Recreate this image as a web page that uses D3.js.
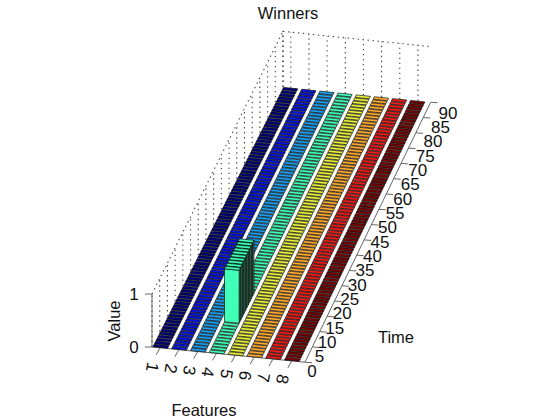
<!DOCTYPE html>
<html lang="en">
<head>
  <meta charset="UTF-8">
  <title>Winners</title>
  <script src="https://d3js.org/d3.v7.min.js"></script>
  <style>
    html, body { margin: 0; background: #fff; }
    text { font-family: "Liberation Sans", Arial, sans-serif; font-size: 16.5px; fill: #111; }
    .tick-label { font-size: 17px; }
  </style>
</head>
<body>
  <div id="chart"></div>
  <script>
    const features = [1, 2, 3, 4, 5, 6, 7, 8];
    const featureColors = ["#00007c", "#0014e6", "#1c9ff0", "#40ffb7", "#eaf23c", "#ffab30", "#f01c18", "#780000"];
    const timeTicks = [0, 5, 10, 15, 20, 25, 30, 35, 40, 45, 50, 55, 60, 65, 70, 75, 80, 85, 90];
    const valueTicks = [0, 1];
    // every bar is 0 except these time steps of feature 4
    const winnerFeature = 4;
    const winnerTimes = [15, 16, 17, 18, 19, 20, 21, 22, 23, 24];
    const barTimes = d3.range(5, 90);

    const width = 560;
    const height = 420;

    const svg = d3.select("#chart").append("svg")
      .attr("width", width)
      .attr("height", height);

    // the reference is a downsampled image, a slight blur keeps the stripes from beating
    svg.append("defs").append("filter").attr("id", "soft")
      .append("feGaussianBlur").attr("stdDeviation", 0.45);

    // projection of the 3D box, one scale per axis and screen direction
    const fMin = 0.57;
    const fMax = 8.7;
    const xF = d3.scaleLinear().domain([fMin, fMin + 8]).range([0, 149]);
    const yF = d3.scaleLinear().domain([fMin, fMin + 8]).range([0, 15]);
    const shrink = d3.scaleLinear().domain([5, 90]).range([1.01, 0.975]); // slight perspective
    const xT = d3.scaleLinear().domain([5, 90]).range([152, 283]);
    const yT = d3.scaleLinear().domain([5, 90]).range([347, 87]);
    const yV = d3.scaleLinear().domain([0, 1]).range([0, -53]);
    const wallTop = d3.scaleLinear().domain([5, 90]).range([1, 1.05]);
    const project = (f, t, v) => [xF(f) * shrink(t) + xT(t), yF(f) + yT(t) + yV(v)];
    const line = d3.line();

    // label positions do not sit at a fixed offset from the ticks
    const timeLabelX = d3.scaleLinear().domain([0, 90]).range([312, 448]);
    const timeLabelY = d3.scaleLinear().domain([0, 90]).range([371, 113]);
    const featureLabelX = d3.scaleLinear().domain([1, 8]).range([152, 282]);
    const featureLabelY = d3.scaleLinear().domain([1, 8]).range([367, 379]);

    // dotted grid on the two walls
    const grid = svg.append("g").attr("fill", "none")
      .attr("stroke", "#444").attr("stroke-width", 1.1).attr("stroke-dasharray", "1.4 3.6");
    const wallLines = [
      [project(fMin, 5, wallTop(5)), project(fMin, 90, wallTop(90))],
      [project(fMin, 90, wallTop(90)), project(fMax, 90, wallTop(90))],
      [project(fMin, 90, 0), project(fMin, 90, wallTop(90))]
    ];
    features.forEach(f => wallLines.push([project(f, 90, 0), project(f, 90, wallTop(90))]));
    timeTicks.filter(t => t >= 5).forEach(t => wallLines.push([project(fMin, t, 0), project(fMin, t, wallTop(t))]));
    grid.selectAll("path").data(wallLines).enter().append("path").attr("d", line);

    // axis lines
    const axes = svg.append("g").attr("fill", "none").attr("stroke", "#666").attr("stroke-width", 1);
    axes.append("path").attr("d", line([project(fMin, 5, 1), project(fMin, 5, 0), project(fMax, 5, 0), project(fMax, 90, 0)]));
    valueTicks.forEach(v => {
      const p = project(fMin, 5, v);
      axes.append("path").attr("d", line([p, [p[0] - 7, p[1]]]));
    });
    features.forEach(f => {
      const p = project(f, 5, 0);
      axes.append("path").attr("d", line([p, [p[0] - 4, p[1] + 7]]));
    });
    timeTicks.filter(t => t >= 5).forEach(t => {
      const p = project(fMax, t, 0);
      axes.append("path").attr("d", line([p, [p[0] + 7, p[1] + 0.5]]));
    });

    // bars back to front, left to right
    const half = 0.39;
    const timeHalf = 0.4;
    const barsG = svg.append("g").attr("filter", "url(#soft)")
      .attr("stroke", "#000").attr("stroke-width", 0.65).attr("stroke-linejoin", "round");
    const barList = [];
    barTimes.slice().reverse().forEach(t => {
      features.forEach(f => {
        const isWinner = f === winnerFeature && winnerTimes.includes(t);
        barList.push({ f, t, v: isWinner ? 1 : 0 });
      });
    });
    const faces = [];
    barList.forEach(d => {
      const x0 = d.f - half, x1 = d.f + half, t0 = d.t + 0.5 - timeHalf, t1 = d.t + 0.5 + timeHalf;
      const color = featureColors[d.f - 1];
      if (d.v > 0) {
        faces.push({
          pts: [project(x1, t0, 0), project(x1, t1, 0), project(x1, t1, d.v), project(x1, t0, d.v)],
          fill: "#6fa58f"
        });
        faces.push({ pts: [project(x0, t0, 0), project(x1, t0, 0), project(x1, t0, d.v), project(x0, t0, d.v)], fill: color });
      }
      faces.push({ pts: [project(x0, t0, d.v), project(x1, t0, d.v), project(x1, t1, d.v), project(x0, t1, d.v)], fill: color });
    });
    barsG.selectAll("path").data(faces).enter().append("path")
      .attr("d", d => line(d.pts) + "Z")
      .attr("fill", d => d.fill);

    // tick labels
    const labels = svg.append("g").attr("text-anchor", "middle").attr("dominant-baseline", "central");
    timeTicks.forEach(t => {
      labels.append("text").attr("class", "tick-label").attr("x", timeLabelX(t)).attr("y", timeLabelY(t)).text(t);
    });
    features.forEach(f => {
      labels.append("text").attr("class", "tick-label")
        .attr("transform", `translate(${featureLabelX(f)},${featureLabelY(f)}) rotate(100)`)
        .text(f);
    });
    valueTicks.forEach(v => {
      const p = project(fMin, 5, v);
      labels.append("text").attr("class", "tick-label").attr("x", p[0] - 18).attr("y", p[1]).text(v);
    });

    // titles
    labels.append("text").attr("x", 288).attr("y", 13).text("Winners");
    labels.append("text").attr("x", 204).attr("y", 410).text("Features");
    labels.append("text").attr("x", 396).attr("y", 337).text("Time");
    labels.append("text").attr("transform", "translate(114,321) rotate(-90)").text("Value");
  </script>
</body>
</html>
